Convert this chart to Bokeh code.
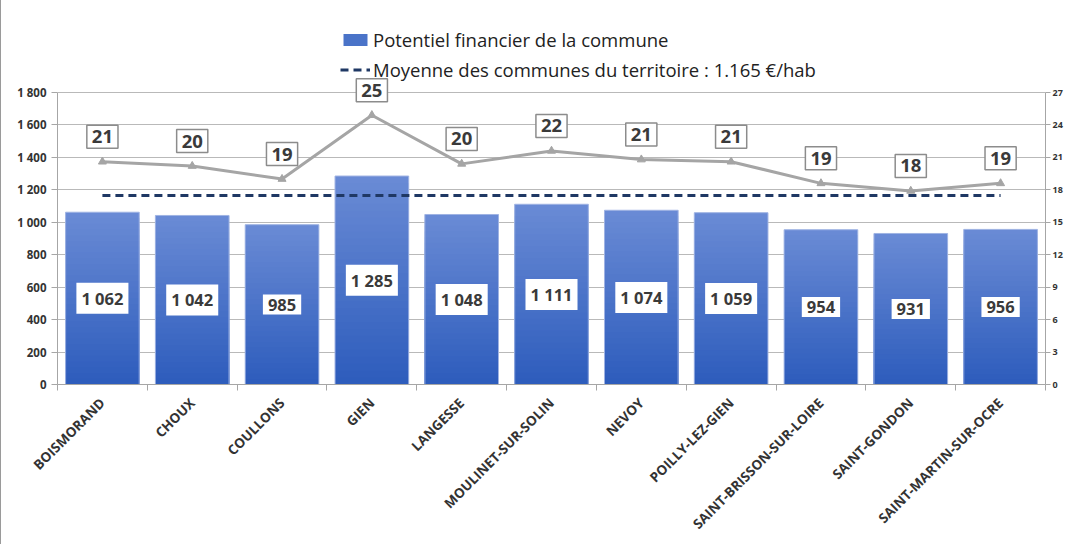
import math
from bokeh.plotting import figure
from bokeh.models import (ColumnDataSource, Range1d, LinearAxis, FixedTicker,
                          Legend, LegendItem, Label)
from bokeh.embed import file_html
from bokeh.resources import INLINE
from bokeh.core.properties import value

# ---------------- data ----------------
communes = ["BOISMORAND", "CHOUX", "COULLONS", "GIEN", "LANGESSE",
            "MOULINET-SUR-SOLIN", "NEVOY", "POILLY-LEZ-GIEN",
            "SAINT-BRISSON-SUR-LOIRE", "SAINT-GONDON", "SAINT-MARTIN-SUR-OCRE"]
potentiel = [1062, 1042, 985, 1285, 1048, 1111, 1074, 1059, 954, 931, 956]
ratio = [20.6, 20.2, 19.0, 24.9, 20.4, 21.6, 20.8, 20.6, 18.6, 17.9, 18.6]
moyenne = 1165
left_ticks = [0, 200, 400, 600, 800, 1000, 1200, 1400, 1600, 1800]
right_ticks = [0, 3, 6, 9, 12, 15, 18, 21, 24, 27]
legend_bar = "Potentiel financier de la commune"
legend_moy = "Moyenne des communes du territoire : 1.165 €/hab"


def fr(v):
    return f"{v:,}".replace(",", " ")


FONT = "Open Sans"
TXT = "#333333"

xs = list(range(len(communes)))

# the frame extends above the axes' top tick so that the legend and the
# data labels above the plot area are not clipped
H_AXIS = 292.0   # pixel height of the 0..max tick span
H_FRAME = 384.0  # pixel height of the frame
ext = H_FRAME / H_AXIS

p = figure(width=1064, height=544, output_backend="svg", toolbar_location=None,
           x_range=Range1d(-0.5, len(communes) - 0.5),
           y_range=Range1d(left_ticks[0], left_ticks[-1] * ext),
           min_border_left=56, min_border_right=8, min_border_top=0,
           min_border_bottom=160)
p.extra_y_ranges = {"right": Range1d(right_ticks[0], right_ticks[-1] * ext)}
p.outline_line_color = None
p.background_fill_color = "white"
p.border_fill_color = "white"
p.styles = {"border-left": "1px solid #9a9a9a"}

# grid
p.xgrid.visible = False
p.ygrid.ticker = FixedTicker(ticks=left_ticks)
p.ygrid.grid_line_color = "#b9b9b9"
p.ygrid.grid_line_width = 1

# left axis
ya = p.yaxis[0]
ya.ticker = FixedTicker(ticks=left_ticks)
ya.bounds = (left_ticks[0], left_ticks[-1])
ya.major_label_overrides = {t: fr(t) for t in left_ticks}
ya.major_tick_out = 6
ya.major_tick_in = 0
ya.minor_tick_out = 0
ya.minor_tick_in = 0
ya.axis_line_color = "#a6a6a6"
ya.major_tick_line_color = "#a6a6a6"
ya.major_label_text_font = FONT
ya.major_label_text_font_style = "bold"
ya.major_label_text_font_size = "11.5px"
ya.major_label_text_color = TXT
ya.major_label_standoff = 5

# right axis
ra = LinearAxis(y_range_name="right", ticker=FixedTicker(ticks=right_ticks))
ra.bounds = (right_ticks[0], right_ticks[-1])
ra.major_tick_out = 5
ra.major_tick_in = 0
ra.minor_tick_out = 0
ra.minor_tick_in = 0
ra.axis_line_color = "#a6a6a6"
ra.major_tick_line_color = "#a6a6a6"
ra.major_label_text_font = FONT
ra.major_label_text_font_style = "bold"
ra.major_label_text_font_size = "9px"
ra.major_label_text_color = TXT
ra.major_label_standoff = 2
p.add_layout(ra, "right")

# x axis
xa = p.xaxis[0]
xa.ticker = FixedTicker(ticks=xs, minor_ticks=[i - 0.5 for i in range(len(communes) + 1)])
xa.major_label_overrides = {i: c for i, c in enumerate(communes)}
xa.major_label_orientation = math.pi / 4
xa.major_tick_out = 0
xa.major_tick_in = 0
xa.minor_tick_out = 6
xa.minor_tick_in = 0
xa.axis_line_color = "#a6a6a6"
xa.minor_tick_line_color = "#a6a6a6"
xa.major_label_text_font = FONT
xa.major_label_text_font_style = "bold"
xa.major_label_text_font_size = "13.5px"
xa.major_label_text_color = TXT
xa.major_label_standoff = 10

# gradient bars: overlapping layers from full height (light) down to the base (dark)
N = 30
top_rgb = (0x6a, 0x8b, 0xd5)
bot_rgb = (0x2d, 0x5c, 0xbc)
BW = 0.82
seg_renderers = []
for k in range(N - 1, -1, -1):
    f = (k + 0.5) / N
    c = tuple(int(round(bot_rgb[j] + (top_rgb[j] - bot_rgb[j]) * f)) for j in range(3))
    col = "#%02x%02x%02x" % c
    src = ColumnDataSource(dict(x=xs, t=[v * (k + 1) / N for v in potentiel]))
    r = p.vbar(x="x", bottom=0, top="t", width=BW, source=src,
               fill_color=col, line_color=None)
    seg_renderers.append(r)

bar_src = ColumnDataSource(dict(x=xs, top=potentiel, mid=[v / 2 for v in potentiel],
                                lab=[fr(v) for v in potentiel]))
p.vbar(x="x", top="top", bottom=0, width=BW, source=bar_src,
       fill_alpha=0, line_color="#9fb3e3", line_width=1)

# average dashed line
moy_r = p.line(x=[xs[0], xs[-1]], y=[moyenne, moyenne], line_color="#1f3864",
               line_width=3, line_dash="8 5")

# ratio line (right axis)
line_src = ColumnDataSource(dict(x=xs, y=ratio, lab=[str(round(v)) for v in ratio]))
p.line(x="x", y="y", source=line_src, y_range_name="right",
       line_color="#a5a5a5", line_width=3)
p.scatter(x="x", y="y", source=line_src, y_range_name="right", marker="triangle",
          size=8, fill_color="#a5a5a5", line_color="#a5a5a5")

# bar value labels
p.text(x="x", y="mid", text="lab", source=bar_src, text_align="center",
       text_baseline="middle", text_font=value(FONT), text_font_style="bold",
       text_font_size="16.5px", text_color="#3a3a3a",
       background_fill_color="white", padding=(5, 5, 4, 4))

# ratio labels
for xi, yi, lab in zip(xs, ratio, line_src.data["lab"]):
    p.add_layout(Label(x=xi, y=yi, y_range_name="right", text=lab, y_offset=25,
                       text_align="center", text_baseline="middle",
                       text_font=FONT, text_font_style="bold", text_font_size="18.5px",
                       text_color="#3a3a3a", background_fill_color="white",
                       border_line_color="#8c8c8c", border_line_width=1.5,
                       padding=5))

# legend
legend = Legend(items=[LegendItem(label=legend_bar, renderers=[seg_renderers[N // 2]]),
                       LegendItem(label=legend_moy, renderers=[moy_r])],
                location=(283, 302), orientation="vertical",
                border_line_color=None, background_fill_alpha=0,
                label_text_font=FONT, label_text_font_size="18.5px",
                label_text_color="#222222", glyph_width=30, glyph_height=15,
                label_standoff=3, spacing=5, padding=0, margin=0)
p.add_layout(legend)

open("out.html", "w").write(file_html(p, INLINE))
